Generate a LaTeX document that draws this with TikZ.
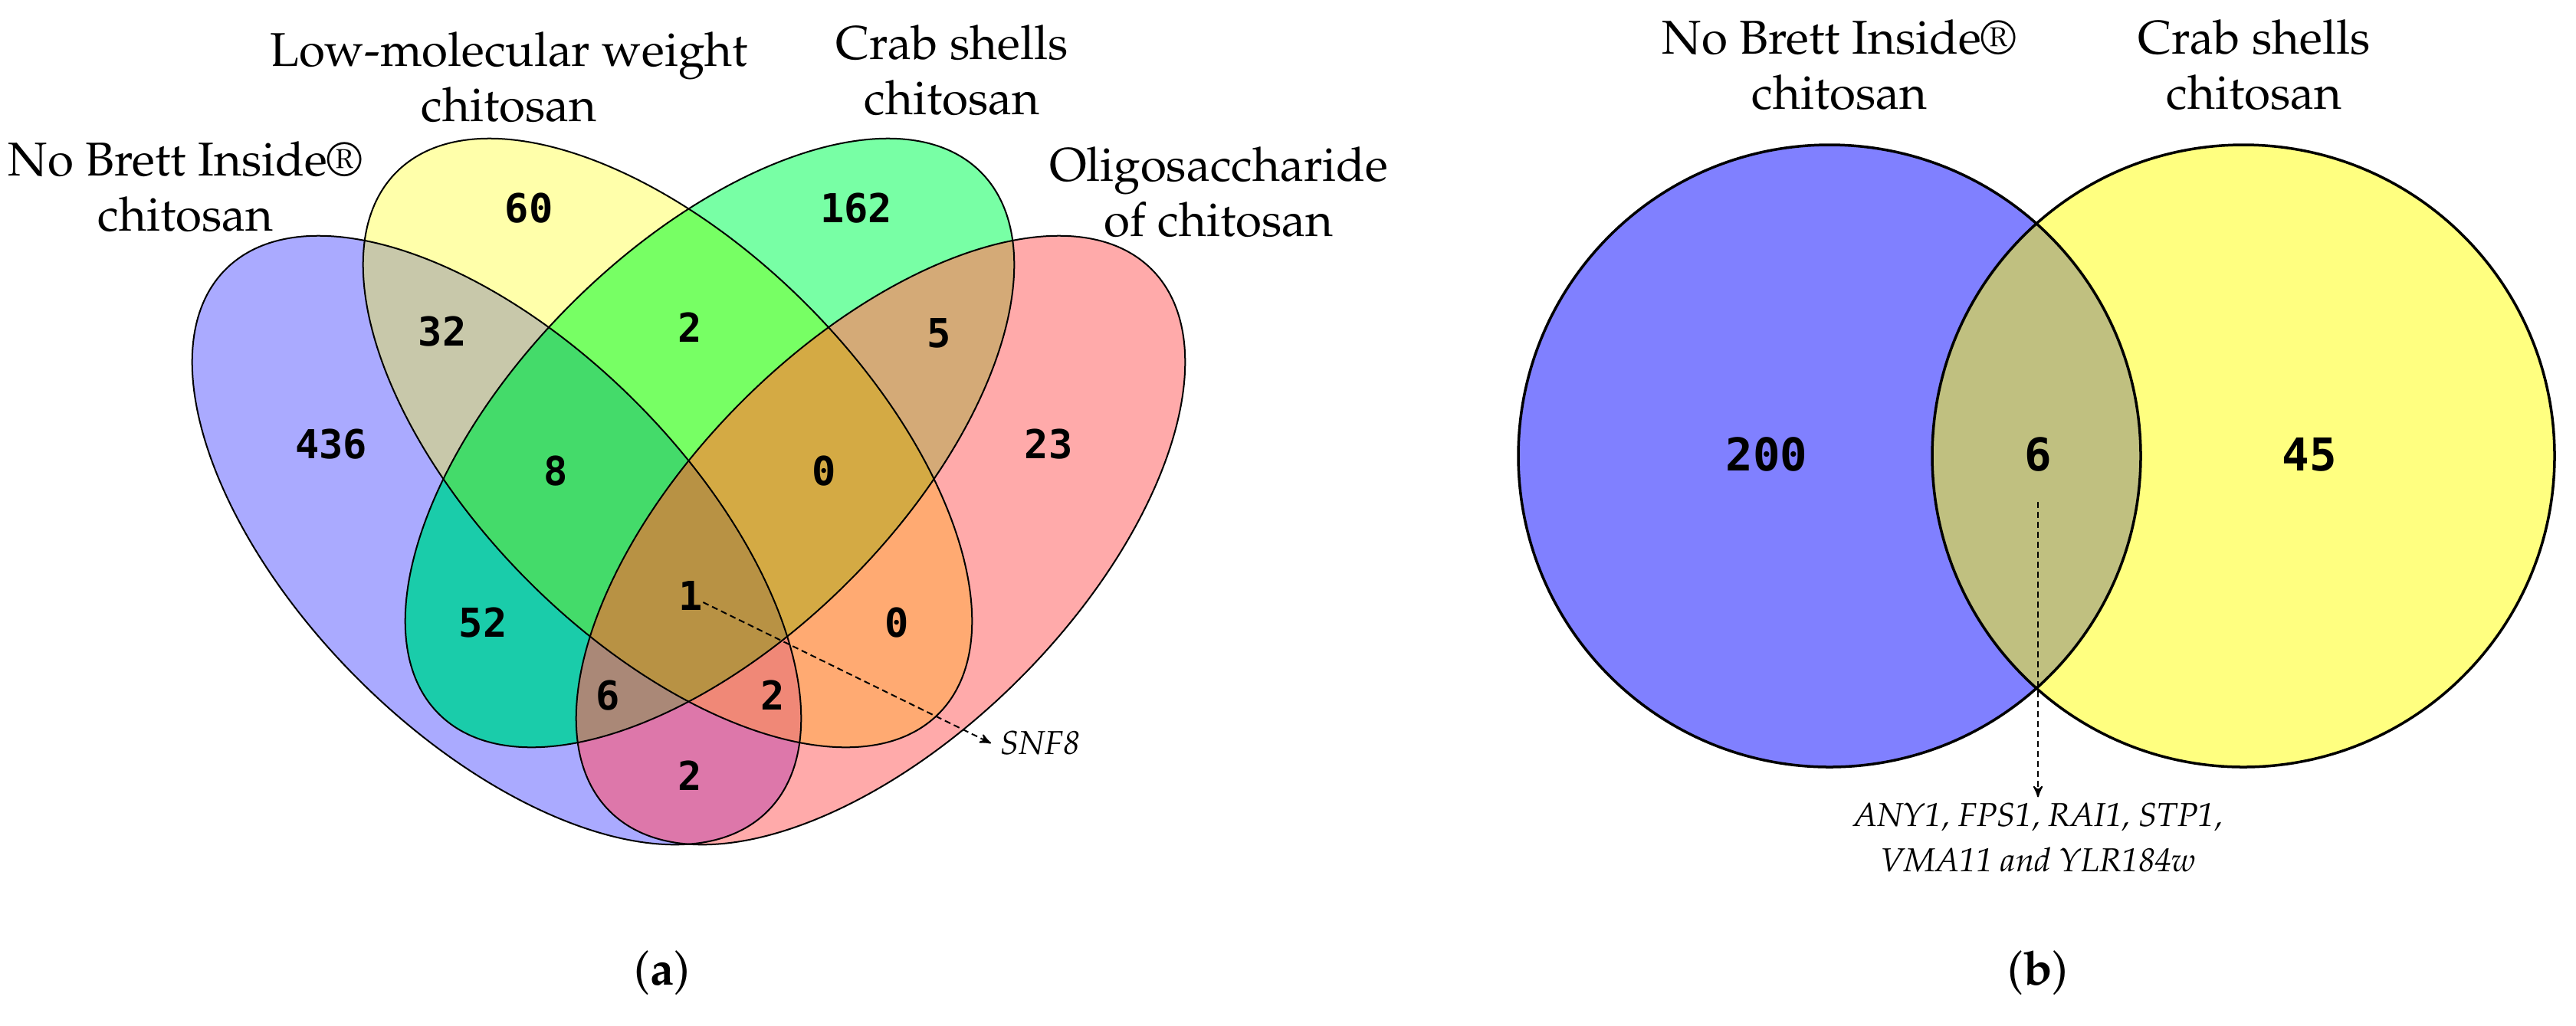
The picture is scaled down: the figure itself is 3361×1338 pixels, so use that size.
\documentclass[tikz,border=0pt]{standalone}
\usepackage[T1]{fontenc}
\usepackage{fontspec}
\newfontfamily\numfont{DejaVu Sans Mono}
\newcommand\palfont{\fontencoding{T1}\fontfamily{ppl}\selectfont}
\usetikzlibrary{arrows}

% region colours
\definecolor{cB}{RGB}{170,170,255}
\definecolor{cY}{RGB}{255,255,170}
\definecolor{cG}{RGB}{120,255,165}
\definecolor{cP}{RGB}{255,170,170}
\definecolor{cBY}{RGB}{200,200,170}
\definecolor{cBG}{RGB}{26,204,170}
\definecolor{cBP}{RGB}{221,119,170}
\definecolor{cYG}{RGB}{119,255,100}
\definecolor{cYP}{RGB}{255,170,114}
\definecolor{cGP}{RGB}{212,170,119}
\definecolor{cBYG}{RGB}{68,219,106}
\definecolor{cBYP}{RGB}{240,136,119}
\definecolor{cBGP}{RGB}{170,136,119}
\definecolor{cYGP}{RGB}{212,170,68}
\definecolor{cAll}{RGB}{184,146,68}
\definecolor{cNB}{RGB}{128,128,255}
\definecolor{cCS}{RGB}{255,255,128}
\definecolor{cBoth}{RGB}{192,192,128}

% the four ellipses of (a)
\newcommand\ellB{[rotate around={-45:(648,705)}] (648,705) ellipse [x radius=500, y radius=256]}
\newcommand\ellY{[rotate around={-45:(871,578)}] (871,578) ellipse [x radius=500, y radius=256]}
\newcommand\ellG{[rotate around={45:(926,578)}] (926,578) ellipse [x radius=500, y radius=256]}
\newcommand\ellP{[rotate around={45:(1149,705)}] (1149,705) ellipse [x radius=500, y radius=256]}
% the two circles of (b)
\newcommand\cirL{(2387,595) circle [radius=406]}
\newcommand\cirR{(2927,595) circle [radius=406]}

\begin{document}
\begin{tikzpicture}[x=0.01cm,y=-0.01cm,>=stealth',
    outline/.style={draw=black,line width=0.02cm},
    num/.style={font=\fontsize{14.8pt}{17pt}\numfont\bfseries,inner sep=0pt},
    bignum/.style={font=\fontsize{16.8pt}{19pt}\numfont\bfseries,inner sep=0pt},
    set label/.style={font=\fontsize{17.6pt}{20.5pt}\palfont,align=center,inner sep=0pt},
    gene/.style={font=\fontsize{12.3pt}{16.8pt}\palfont\itshape,align=center},
    pointer/.style={->,dash pattern=on 0.08cm off 0.05cm,line width=0.02cm}]

\path[fill=white,use as bounding box] (0,0) rectangle (3361,1338);

%% (a) four sets
\fill[cB] \ellB;
\fill[cY] \ellY;
\fill[cG] \ellG;
\fill[cP] \ellP;
% two sets
\begin{scope}\clip \ellB; \fill[cBY] \ellY; \end{scope}
\begin{scope}\clip \ellB; \fill[cBG] \ellG; \end{scope}
\begin{scope}\clip \ellB; \fill[cBP] \ellP; \end{scope}
\begin{scope}\clip \ellY; \fill[cYG] \ellG; \end{scope}
\begin{scope}\clip \ellY; \fill[cYP] \ellP; \end{scope}
\begin{scope}\clip \ellG; \fill[cGP] \ellP; \end{scope}
% three sets
\begin{scope}\clip \ellB; \clip \ellY; \fill[cBYG] \ellG; \end{scope}
\begin{scope}\clip \ellB; \clip \ellY; \fill[cBYP] \ellP; \end{scope}
\begin{scope}\clip \ellB; \clip \ellG; \fill[cBGP] \ellP; \end{scope}
\begin{scope}\clip \ellY; \clip \ellG; \fill[cYGP] \ellP; \end{scope}
% all four
\begin{scope}\clip \ellB; \clip \ellY; \clip \ellG; \fill[cAll] \ellP; \end{scope}

\draw[outline] \ellB;
\draw[outline] \ellY;
\draw[outline] \ellG;
\draw[outline] \ellP;

\node[set label] (labB) at (242,244) {No Brett Inside\textregistered\\chitosan};
\node[set label] (labY) at (664,101) {Low-molecular weight\\chitosan};
\node[set label] (labG) at (1242,92) {Crab shells\\chitosan};
\node[set label] (labP) at (1590,251) {Oligosaccharide\\of chitosan};

\node[num] (B) at (432,580) {436};
\node[num] (Y) at (690,272) {60};
\node[num] (G) at (1117,272) {162};
\node[num] (P) at (1368,580) {23};
\node[num] (BY) at (577,433) {32};
\node[num] (YG) at (900,427) {2};
\node[num] (GP) at (1225,435) {5};
\node[num] (BYG) at (725,615) {8};
\node[num] (YGP) at (1075,615) {0};
\node[num] (BG) at (630,813) {52};
\node[num] (YP) at (1170,813) {0};
\node[num] (all) at (901,778) {1};
\node[num] (BGP) at (793,908) {6};
\node[num] (BYP) at (1008,907) {2};
\node[num] (BP) at (900,1012) {2};

\node[gene,anchor=west] (snf) at (1293,970) {SNF8};
\draw[pointer] (all) -- (snf.west);

\node[set label] (capA) at (864,1270) {(\textbf{a})};

%% (b) two sets
\fill[cNB] \cirL;
\fill[cCS] \cirR;
\begin{scope}\clip \cirL; \fill[cBoth] \cirR; \end{scope}
\draw[outline,line width=0.035cm] \cirL;
\draw[outline,line width=0.035cm] \cirR;

\node[set label] (labL) at (2400,85) {No Brett Inside\textregistered\\chitosan};
\node[set label] (labR) at (2941,85) {Crab shells\\chitosan};

\node[bignum] (L) at (2305,593) {200};
\node[bignum] (LR) at (2659,593) {6};
\node[bignum] (R) at (3013,593) {45};

\node[gene,inner sep=2pt] (genes) at (2659,1093) {ANY1, FPS1, RAI1, STP1,\\VMA11 and YLR184w};
\draw[pointer,shorten <=0.39cm] (LR) -- (genes.north);

\node[set label] (capB) at (2659,1270) {(\textbf{b})};

\end{tikzpicture}
\end{document}
